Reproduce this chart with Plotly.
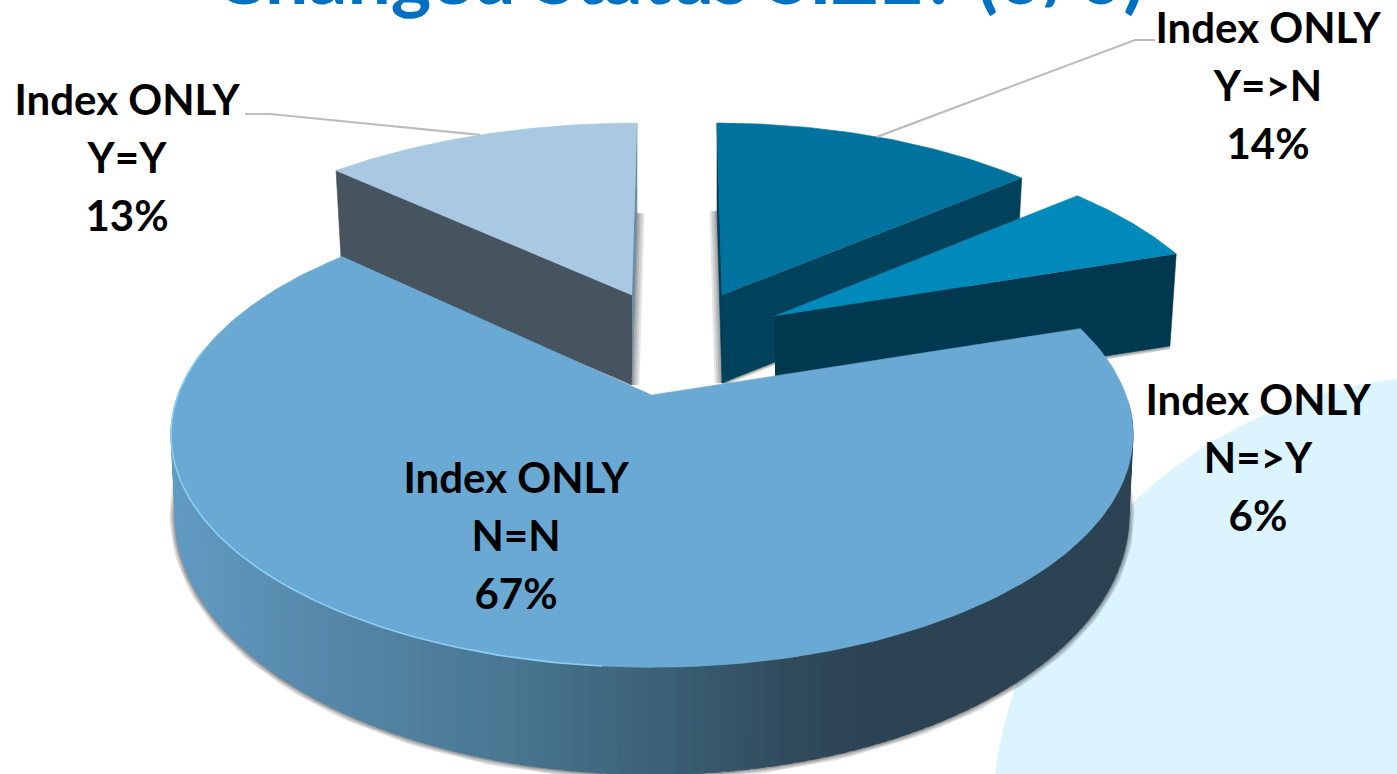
import numpy as np
import plotly.graph_objects as go

# Chart content
TITLE = "Changed Status SIZE? (0/0)"
CATEGORIES = ["Y=>N", "N=>Y", "N=N", "Y=Y"]
PREFIX = "Index ONLY"
VALUES = [14, 6, 67, 13]

WIDTH, HEIGHT = 1397, 774

# Pose of each wedge on the tilted, perspective pie: apex, half axes, perspective and lean,
# for the upper face and the lower face of the disc.
POSES = {
    "Y=>N": dict(top=dict(cx=722, cy=295, a=446, b=208, k=0.21, lean=0.029),
                 low=dict(cx=722, cy=383, a=439, b=208, k=0.21, lean=0.029)),
    "N=>Y": dict(top=dict(cx=775, cy=316, a=452, b=214, k=0.21, lean=0.04),
                 low=dict(cx=775, cy=408, a=445, b=214, k=0.21, lean=0.04)),
    "N=N": dict(top=dict(cx=652, cy=395, a=474, b=226, k=0.17, lean=0.0),
                low=dict(cx=652, cy=471, a=470, b=252, k=0.17, lean=0.0)),
    "Y=Y": dict(top=dict(cx=632, cy=295, a=470, b=208, k=0.21, lean=-0.029),
                low=dict(cx=632, cy=385, a=462, b=208, k=0.21, lean=-0.029)),
}
TOP_COLORS = {"Y=>N": "#00729E", "N=>Y": "#008ABB", "N=N": "#69A9D4", "Y=Y": "#A9C8E1"}
# Radial face seen broadside, and the sliver of the opposite face seen edge-on
BROAD_FACE = {"Y=>N": ("end", "#00425C"), "N=>Y": ("end", "#00394F"), "Y=Y": ("start", "#465460")}
SLIVER_FACE = {"Y=>N": ("start", "#003F58"), "Y=Y": ("end", "#6F8DA6")}
WALL_STOPS_X = [175, 300, 500, 650, 800, 870, 1135]
WALL_STOPS_RGB = [(97, 155, 194), (88, 139, 174), (74, 120, 148), (61, 99, 121),
                  (48, 74, 92), (44, 67, 84), (44, 67, 84)]

LABEL_CENTERS = {"Y=>N": (1268, 32), "N=>Y": (1258, 404), "N=N": (516, 482), "Y=Y": (127, 104)}
LABEL_PITCH = 58
LEADER_ELBOWS = {"Y=>N": [(1135, 40), (1155, 40)], "Y=Y": [(270, 114), (245, 114)]}


def project(theta, pose, r=1.0):
    """Map pie angle (degrees clockwise from 12 o'clock) to screen coordinates."""
    t = np.radians(theta)
    u, v = r * np.sin(t), -r * np.cos(t)
    s = 1.0 / (1.0 - pose["k"] * v)
    y = pose["cy"] + pose["b"] * v * s
    x = pose["cx"] + pose["a"] * u * s + pose["lean"] * (y - pose["cy"])
    return x, y


def polygon(xs, ys, color):
    return go.Scatter(x=list(xs), y=list(ys), mode="lines", fill="toself", fillcolor=color,
                      line=dict(color=color, width=0.6), hoverinfo="skip", showlegend=False)


def soft_stroke(xs, ys, widths=(12, 9, 6, 3), alpha=0.11):
    return [go.Scatter(x=list(xs), y=list(ys), mode="lines",
                       line=dict(color=f"rgba(0,0,0,{alpha})", width=w),
                       hoverinfo="skip", showlegend=False) for w in widths]


def wall_color(x):
    rgb = [np.interp(x, WALL_STOPS_X, [c[i] for c in WALL_STOPS_RGB]) for i in range(3)]
    return "rgb({:.0f},{:.0f},{:.0f})".format(*rgb)


# Angular extent of every wedge from its share of the whole
shares = np.array(VALUES, dtype=float) / sum(VALUES) * 360
ends = np.cumsum(shares)
starts = ends - shares
SPANS = {c: (s, e) for c, s, e in zip(CATEGORIES, starts, ends)}

fig = go.Figure()


def add_wedge(cat):
    s, e = SPANS[cat]
    top, low = POSES[cat]["top"], POSES[cat]["low"]
    edge_of = {"start": s, "end": e}
    arc = np.linspace(s, e, 60)
    tx, ty = project(arc, top)
    ax, ay = project(0, top, 0)
    bx, by = project(0, low, 0)
    # soft shadow along the lower edges
    if cat in SLIVER_FACE:
        ex, ey = project(edge_of[SLIVER_FACE[cat][0]], low, np.linspace(0, 1, 16))
        for tr in soft_stroke(ex, ey, widths=(15, 11, 7, 4), alpha=0.10):
            fig.add_trace(tr)
    if cat == "Y=>N":
        ex, ey = project(e, low, np.linspace(0, 0.5, 12))
        for tr in soft_stroke(ex, ey, widths=(6, 3), alpha=0.18):
            fig.add_trace(tr)
    if cat == "N=>Y":
        ex, ey = project(e, low, np.linspace(0.7, 1, 12))
        for tr in soft_stroke(ex, ey, widths=(7, 4), alpha=0.18):
            fig.add_trace(tr)
    # radial faces
    side, color = BROAD_FACE[cat]
    ix, iy = project(edge_of[side], top)
    jx, jy = project(edge_of[side], low)
    fig.add_trace(polygon([ax, ix, jx, bx], [ay, iy, jy, by], color))
    if cat in SLIVER_FACE:
        side, color = SLIVER_FACE[cat]
        ix, iy = project(edge_of[side], top)
        jx, jy = project(edge_of[side], low)
        fig.add_trace(polygon([ax, ix, jx, bx], [ay, iy, jy, by], color))
    # upper face
    fig.add_trace(polygon([ax, *tx], [ay, *ty], TOP_COLORS[cat]))


for cat in ["Y=Y", "Y=>N", "N=>Y"]:
    add_wedge(cat)

# Large wedge: shadow, shaded outer wall, upper face and highlight rim
s, e = SPANS["N=N"]
top, low = POSES["N=N"]["top"], POSES["N=N"]["low"]
wall_arc = np.arange(s + 20, e - 40, 1.5)
wx, wy = project(wall_arc, low)
for tr in soft_stroke(wx, wy, widths=(11, 8, 5, 3), alpha=0.12):
    fig.add_trace(tr)
# Each strip overlaps its neighbour so no seams show between them
for a0 in wall_arc[:-1]:
    a1 = a0 + 2.5
    x0, y0 = project(a0, top)
    x1, y1 = project(a1, top)
    x2, y2 = project(a1, low)
    x3, y3 = project(a0, low)
    fig.add_trace(polygon([x0, x1, x2, x3], [y0, y1, y2, y3], wall_color((x0 + x3) / 2)))

arc = np.linspace(s, e, 240)
tx, ty = project(arc, top)
ax, ay = project(0, top, 0)
fig.add_trace(polygon([ax, *tx], [ay, *ty], TOP_COLORS["N=N"]))
rim_x, rim_y = project(np.linspace(185, 282, 90), top)
fig.add_trace(go.Scatter(x=rim_x, y=rim_y, mode="lines", line=dict(color="#8CCFF2", width=1.6),
                         hoverinfo="skip", showlegend=False))

# Leader lines from the middle of the outer arc to the label
for cat, elbow in LEADER_ELBOWS.items():
    s, e = SPANS[cat]
    mx, my = project((s + e) / 2, POSES[cat]["top"])
    fig.add_trace(go.Scatter(x=[mx] + [p[0] for p in elbow], y=[my] + [p[1] for p in elbow],
                             mode="lines", line=dict(color="#BDBDBD", width=2.2),
                             hoverinfo="skip", showlegend=False))

# Three-line data labels
for cat, val in zip(CATEGORIES, VALUES):
    lx, ly = LABEL_CENTERS[cat]
    lines = [PREFIX, cat, f"{val}%"]
    fig.add_trace(go.Scatter(
        x=[lx] * 3, y=[ly + i * LABEL_PITCH for i in range(3)], mode="text", text=lines,
        textposition="middle center", cliponaxis=False,
        textfont=dict(family="Lato", size=42, color="#000000", weight=700),
        hoverinfo="skip", showlegend=False))

fig.add_annotation(x=679, y=3, xref="x", yref="y", text=f"<b>{TITLE}</b>", showarrow=False,
                   xanchor="center", yanchor="bottom", yshift=-19,
                   font=dict(family="Lato", size=77, color="#0070C0"))

# Pale disc behind the lower right corner of the page
fig.add_shape(type="circle", xref="x", yref="y", x0=1449 - 458, x1=1449 + 458,
              y0=834 - 458, y1=834 + 458, fillcolor="#DCF4FE", line_width=0, layer="below")

fig.update_layout(
    width=WIDTH, height=HEIGHT, margin=dict(l=0, r=0, t=0, b=0),
    paper_bgcolor="#FFFFFF", plot_bgcolor="rgba(0,0,0,0)", showlegend=False,
    xaxis=dict(range=[0, WIDTH], visible=False, fixedrange=True),
    yaxis=dict(range=[HEIGHT, 0], visible=False, fixedrange=True),
)
fig.write_html("out.html", config=dict(displayModeBar=False))
